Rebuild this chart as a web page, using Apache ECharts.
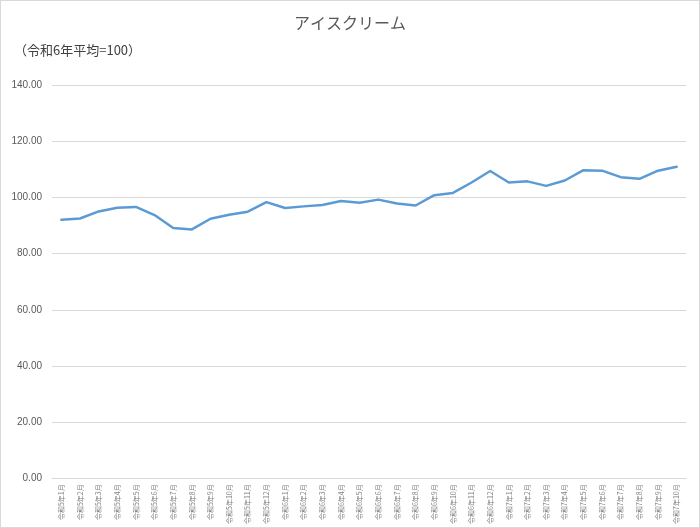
<!DOCTYPE html>
<html>
<head>
<meta charset="utf-8">
<script src="https://cdn.jsdelivr.net/npm/echarts@6/dist/echarts.min.js"></script>
<style>
html,body{margin:0;padding:0;background:#fff;}
#c{position:absolute;left:0;top:0;width:698px;height:526px;border:1px solid #d9d9d9;}
</style>
</head>
<body>
<div id="c"></div>
<script>
var categories = [
  "令和5年1月","令和5年2月","令和5年3月","令和5年4月","令和5年5月","令和5年6月",
  "令和5年7月","令和5年8月","令和5年9月","令和5年10月","令和5年11月","令和5年12月",
  "令和6年1月","令和6年2月","令和6年3月","令和6年4月","令和6年5月","令和6年6月",
  "令和6年7月","令和6年8月","令和6年9月","令和6年10月","令和6年11月","令和6年12月",
  "令和7年1月","令和7年2月","令和7年3月","令和7年4月","令和7年5月","令和7年6月",
  "令和7年7月","令和7年8月","令和7年9月","令和7年10月"
];
var values = [
  92.0, 92.5, 95.0, 96.3, 96.6, 93.7, 89.1, 88.6, 92.4, 93.8, 94.9, 98.3,
  96.2, 96.8, 97.3, 98.7, 98.1, 99.2, 97.8, 97.1, 100.8, 101.6, 105.3, 109.4,
  105.3, 105.7, 104.1, 106.0, 109.7, 109.5, 107.2, 106.6, 109.5, 110.9
];
var yTicks = [0, 20, 40, 60, 80, 100, 120, 140];
var titleText = "アイスクリーム";
var unitText = "（令和6年平均=100）";

var chart = echarts.init(document.getElementById('c'));
chart.setOption({
  backgroundColor: '#fff',
  animation: false,
  textStyle: { fontFamily: '"Noto Sans CJK JP", "Noto Sans", sans-serif' },
  title: [
    { text: titleText, left: 'center', top: 9,
      textStyle: { fontSize: 16, fontWeight: 'normal', color: '#595959',
        fontFamily: '"Noto Sans CJK JP", sans-serif' } },
    { text: unitText, left: 8, top: 38,
      textStyle: { fontSize: 13, fontWeight: 'normal', color: '#404040',
        fontFamily: '"Noto Sans CJK JP", sans-serif' } }
  ],
  grid: { left: 51, right: 13, top: 84, bottom: 48, containLabel: false },
  xAxis: {
    type: 'category',
    data: categories,
    boundaryGap: true,
    axisLine: { show: true, lineStyle: { color: '#d9d9d9', width: 1 } },
    axisTick: { show: false },
    axisLabel: { rotate: 90, interval: 0, fontSize: 7, color: '#7f7f7f', margin: 6,
      fontFamily: '"Noto Sans CJK JP", sans-serif' }
  },
  yAxis: {
    type: 'value',
    min: yTicks[0],
    max: yTicks[yTicks.length - 1],
    interval: yTicks[1] - yTicks[0],
    axisLine: { show: false },
    axisTick: { show: false },
    splitLine: { lineStyle: { color: '#d9d9d9', width: 1 } },
    axisLabel: { fontSize: 10, color: '#595959', margin: 10,
      fontFamily: '"Liberation Sans", "Noto Sans", sans-serif',
      formatter: function (v) { return v.toFixed(2); } }
  },
  series: [{
    type: 'line',
    data: values,
    symbol: 'none',
    lineStyle: { color: '#5B9BD5', width: 2.5, cap: 'round', join: 'round' },
    itemStyle: { color: '#5B9BD5' }
  }]
});
</script>
</body>
</html>
